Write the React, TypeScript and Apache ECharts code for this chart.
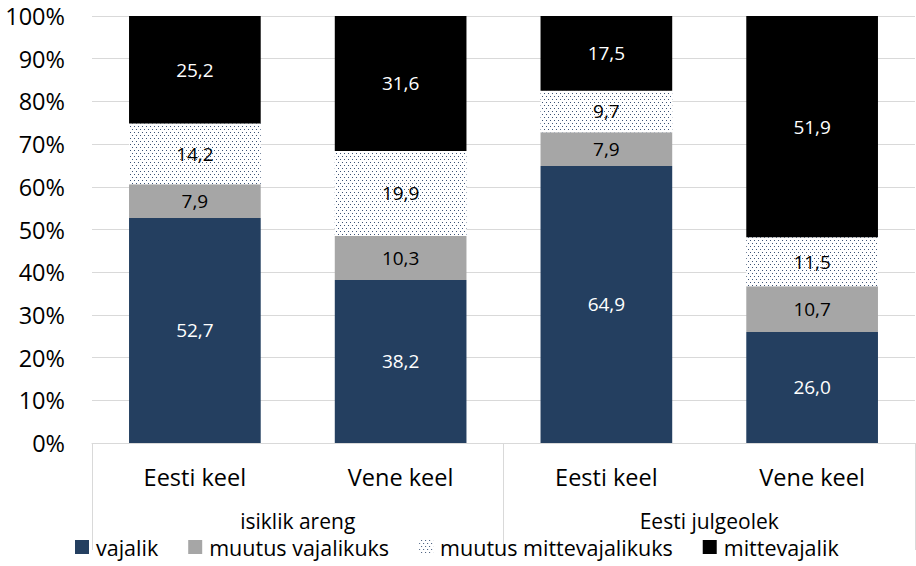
import React, { useEffect, useRef } from "react";
import * as echarts from "echarts";

const groups = ["isiklik areng", "Eesti julgeolek"];
const categories = ["Eesti keel", "Vene keel", "Eesti keel", "Vene keel"];
const seriesNames = ["vajalik", "muutus vajalikuks", "muutus mittevajalikuks", "mittevajalik"];
const vajalik = [52.7, 38.2, 64.9, 26.0];
const muutusVajalikuks = [7.9, 10.3, 7.9, 10.7];
const muutusMittevajalikuks = [14.2, 19.9, 9.7, 11.5];
const mittevajalik = [25.2, 31.6, 17.5, 51.9];
const yTicks = [0, 10, 20, 30, 40, 50, 60, 70, 80, 90, 100];

const FONT = "'Open Sans', sans-serif";

export default function App() {
  const ref = useRef<HTMLDivElement>(null);
  useEffect(() => {
    if (!ref.current) return;
    const chart = echarts.init(ref.current, null, { renderer: "svg" });
    const fmt = (p: any) => Number(p.value).toFixed(1).replace(".", ",");
    const mkLabel = (color: string) => ({
      show: true,
      position: "inside",
      color,
      fontSize: 19,
      fontFamily: FONT,
      formatter: fmt,
    });
    const data = [vajalik, muutusVajalikuks, muutusMittevajalikuks, mittevajalik];
    const colors = ["#243f60", "#a6a6a6", "#ffffff", "#000000"];
    const labelColors = ["#ffffff", "#000000", "#000000", "#ffffff"];
    const series = seriesNames.map((name, i) => ({
      name,
      type: "bar",
      stack: "total",
      barWidth: "64%",
      data: data[i],
      label: mkLabel(labelColors[i]),
      itemStyle:
        i === 2
          ? {
              color: "#ffffff",
              decal: {
                symbol: "rect",
                symbolSize: 1,
                color: "#3f5577",
                dashArrayX: [[1, 3], [0, 2, 1, 1]],
                dashArrayY: [1, 1.3],
                rotation: 0,
              },
            }
          : { color: colors[i] },
    }));
    chart.setOption({
      animation: false,
      textStyle: { fontFamily: FONT },
      grid: { left: 92, right: 1, top: 16, bottom: 123 },
      legend: {
        data: seriesNames,
        left: 70,
        bottom: 2,
        itemWidth: 14,
        itemHeight: 14,
        itemGap: 30,
        icon: "rect",
        textStyle: { fontSize: 21.5, lineHeight: 24, color: "#000", fontFamily: FONT, padding: [0, 0, 0, 2] },
      },
      xAxis: [
        {
          type: "category",
          data: categories,
          position: "bottom",
          axisLine: { show: true, lineStyle: { color: "#d9d9d9", width: 1 } },
          axisTick: { show: false },
          axisLabel: { margin: 22, fontSize: 23.5, color: "#000", fontFamily: FONT },
        },
        {
          type: "category",
          data: groups,
          position: "bottom",
          axisLine: { show: false },
          axisTick: { show: true, length: 107, lineStyle: { color: "#d9d9d9" } },
          axisLabel: { margin: 66, fontSize: 21, lineHeight: 24, color: "#000", fontFamily: FONT },
          splitLine: { show: false },
        },
      ],
      yAxis: {
        type: "value",
        min: yTicks[0],
        max: yTicks[yTicks.length - 1],
        interval: 10,
        axisLabel: { formatter: "{value}%", fontSize: 23.5, color: "#000", margin: 27, fontFamily: FONT },
        axisLine: { show: false },
        axisTick: { show: false },
        splitLine: { lineStyle: { color: "#d9d9d9", width: 1 } },
      },
      series,
    });
    return () => chart.dispose();
  }, []);
  return (
    <div
      ref={ref}
      style={{ position: "fixed", left: 0, top: 0, width: 916, height: 566, background: "#fff" }}
    />
  );
}
